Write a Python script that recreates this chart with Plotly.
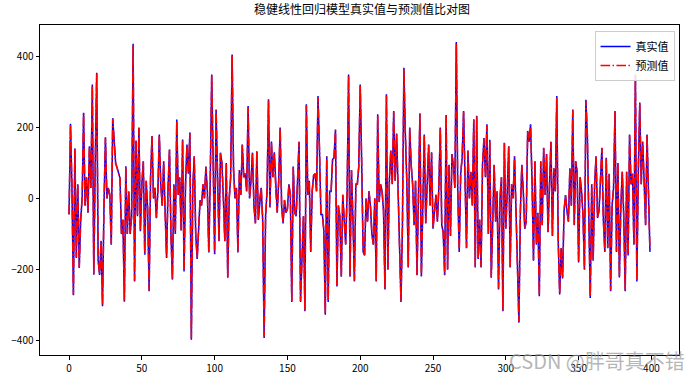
import plotly.graph_objects as go

title_text = "稳健线性回归模型真实值与预测值比对图"
series_names = ["真实值", "预测值"]
x_ticks = [0, 50, 100, 150, 200, 250, 300, 350, 400]
y_ticks = [-400, -200, 0, 200, 400]

y_true = [
    -45, 210, 30, -272, 141, -167, 40, -195, -60, 0,
    241, -20, 60, -40, 147, 30, 321, -214, 100, 354,
    -175, -215, -120, -303, -20, 172, 0, 30, 10, -130,
    226, 160, 100, 87, 70, 57, -100, -60, -290, 91,
    -100, 20, -100, -50, 435, -233, 163, -50, 200, -92,
    40, 105, -158, 50, -30, -261, 60, 176, 0, 30,
    -55, 20, 180, 40, -20, 105, -40, -167, 30, 138,
    -100, -228, 40, -100, 222, 10, 60, -90, 166, -205,
    40, 152, 70, 186, -397, 30, 119, -100, -170, -60,
    -5, -20, 40, 0, 90, 20, -152, 60, 349, 100,
    -157, 250, 60, -120, 129, 100, 0, -120, 100, -223,
    0, 60, 405, 80, 0, 30, -152, 80, 10, 152,
    60, 70, 20, 260, 0, 50, 129, -20, -70, 133,
    -60, 0, 30, -60, -392, -50, 20, 279, -25, 160,
    60, 130, 20, -40, 50, 200, -20, -70, -5, -40,
    -30, 40, 10, -291, 90, -40, -50, 40, 160, -291,
    -167, -50, -317, 265, 10, 50, -150, 20, 65, 70,
    20, 288, 140, -45, -45, -90, -327, 119, -291, 20,
    20, 110, 115, 194, -247, -20, -50, -220, 10, -50,
    -130, 15, 349, -220, 80, -60, -233, 40, 40, 90,
    321, 100, -150, -160, 0, -65, 20, -20, -100, -130,
    0, -233, 237, -10, 40, 20, -35, -256, 293, -200,
    50, 135, 40, 246, 50, 183, 20, -75, -291, -75,
    368, 180, 50, -194, 200, 95, 40, -75, 50, -216,
    60, 240, -219, 30, 180, -70, 40, 152, -20, 130,
    -85, -35, 10, -65, 30, 200, -75, -95, -216, 235,
    -200, 95, -105, 125, 95, 30, 440, 20, -150, 70,
    115, 246, 30, -140, 135, 0, 75, -20, 223, -194,
    233, -170, -60, -194, 95, 170, 60, 209, -100, 165,
    -223, -55, 95, -65, 20, -256, 0, 60, -317, 157,
    -85, 20, 147, -194, 40, 0, 119, -35, -240, -349,
    -35, 95, 20, -85, -65, 190, 160, 209, 50, -175,
    105, -130, -40, -275, 105, -75, 143, 10, 125, -95,
    40, 160, -105, 85, 20, 288, -120, -270, -140, -225,
    -35, 10, -35, -65, 85, -20, 250, -75, 105, 75,
    -180, 60, 20, -45, -200, 278, 180, -110, -280, 40,
    -175, 40, 119, -55, -35, 50, 143, -60, -150, 115,
    -140, 70, -261, -20, 30, 246, -150, 100, -222, -20,
    75, -50, -261, 75, -160, 180, 40, 70, -130, 349,
    -233, 75, 270, 40, 160, 50, -75, 180, 20, -150,
]

y_pred = [
    -44, 208, 31, -270, 140, -165, 41, -193, -59, 1,
    239, -19, 59, -39, 146, 31, 318, -212, 101, 351,
    -173, -213, -119, -300, -19, 171, 1, 30, 11, -128,
    224, 159, 99, 86, 70, 57, -98, -59, -287, 90,
    -99, 21, -98, -49, 431, -231, 162, -49, 198, -91,
    40, 104, -156, 50, -29, -258, 60, 175, 1, 30,
    -54, 21, 178, 40, -19, 104, -39, -165, 30, 137,
    -99, -226, 40, -99, 220, 11, 60, -89, 165, -203,
    40, 151, 70, 184, -393, 31, 118, -99, -168, -59,
    -4, -19, 40, 1, 89, 21, -150, 60, 346, 99,
    -155, 248, 60, -119, 128, 99, 1, -119, 99, -221,
    1, 60, 401, 80, 1, 30, -150, 80, 11, 151,
    60, 70, 21, 257, 1, 50, 128, -19, -69, 132,
    -59, 1, 30, -59, -388, -49, 21, 276, -24, 159,
    60, 129, 21, -39, 50, 198, -19, -69, -4, -39,
    -29, 40, 11, -288, 89, -39, -49, 40, 159, -288,
    -165, -49, -314, 262, 11, 50, -148, 21, 65, 70,
    21, 285, 139, -44, -44, -89, -323, 118, -288, 21,
    21, 109, 114, 192, -245, -19, -49, -218, 11, -49,
    -128, 16, 346, -218, 80, -59, -231, 40, 40, 89,
    318, 99, -148, -158, 1, -64, 21, -19, -99, -128,
    1, -231, 235, -9, 40, 21, -34, -253, 290, -198,
    50, 134, 40, 244, 50, 181, 21, -74, -288, -74,
    364, 178, 50, -192, 198, 94, 40, -74, 50, -214,
    60, 238, -217, 30, 178, -69, 40, 151, -19, 129,
    -84, -34, 11, -64, 30, 198, -74, -94, -214, 233,
    -198, 94, -104, 124, 94, 30, 436, 21, -148, 70,
    114, 244, 30, -139, 134, 1, 75, -19, 221, -192,
    231, -168, -59, -192, 94, 169, 60, 207, -99, 164,
    -221, -54, 94, -64, 21, -253, 1, 60, -314, 156,
    -84, 21, 146, -192, 40, 1, 118, -34, -238, -346,
    -34, 94, 21, -84, -64, 188, 159, 207, 50, -173,
    104, -128, -39, -272, 104, -74, 142, 11, 124, -94,
    40, 159, -104, 84, 21, 285, -119, -267, -139, -223,
    -34, 11, -34, -64, 84, -19, 248, -74, 104, 75,
    -178, 60, 21, -44, -198, 275, 178, -109, -277, 40,
    -173, 40, 118, -54, -34, 50, 142, -59, -148, 114,
    -139, 70, -258, -19, 30, 244, -148, 99, -220, -19,
    75, -49, -258, 75, -158, 178, 40, 70, -128, 346,
    -231, 75, 267, 40, 159, 50, -74, 178, 21, -148,
]

x_idx = list(range(len(y_true)))

fig = go.Figure()
fig.add_trace(go.Scatter(
    x=x_idx, y=y_true, mode="lines", name=series_names[0],
    line=dict(color="blue", width=1.5),
))
fig.add_trace(go.Scatter(
    x=x_idx, y=y_pred, mode="lines", name=series_names[1],
    line=dict(color="red", width=1.6, dash="9.6px,2.4px,1.5px,2.4px"),
))

fig.update_layout(
    width=692, height=383,
    paper_bgcolor="white", plot_bgcolor="white",
    margin=dict(l=40, r=13, t=25, b=28, autoexpand=False),
    font=dict(family="Noto Sans CJK SC, DejaVu Sans, sans-serif", size=10, color="black"),
    title=dict(text=title_text, x=0.523, xanchor="center", y=0.985, yanchor="top",
               font=dict(size=12, color="black")),
    showlegend=True,
    legend=dict(x=0.993, y=0.982, xanchor="right", yanchor="top",
                bgcolor="rgba(255,255,255,0.85)", bordercolor="#cccccc", borderwidth=1,
                font=dict(size=11), tracegroupgap=0, itemwidth=30),
    annotations=[dict(text="CSDN @胖哥真不错", x=1.013, y=-0.018, xref="paper", yref="paper",
                      xanchor="right", yanchor="middle", showarrow=False,
                      font=dict(size=20, color="rgba(150,150,150,0.7)"))],
)
fig.update_xaxes(range=[-19.95, 418.95], tickvals=x_ticks, showgrid=False, zeroline=False,
                 showline=True, linecolor="black", linewidth=1, mirror=True, automargin=False,
                 ticks="outside", ticklen=3.5, tickcolor="black")
fig.update_yaxes(range=[-440, 488], tickvals=y_ticks, showgrid=False, zeroline=False,
                 showline=True, linecolor="black", linewidth=1, mirror=True, automargin=False,
                 ticks="outside", ticklen=3.5, tickcolor="black")

fig.write_html("out.html", config={"displayModeBar": False},
               post_script="document.body.style.margin='0';")
